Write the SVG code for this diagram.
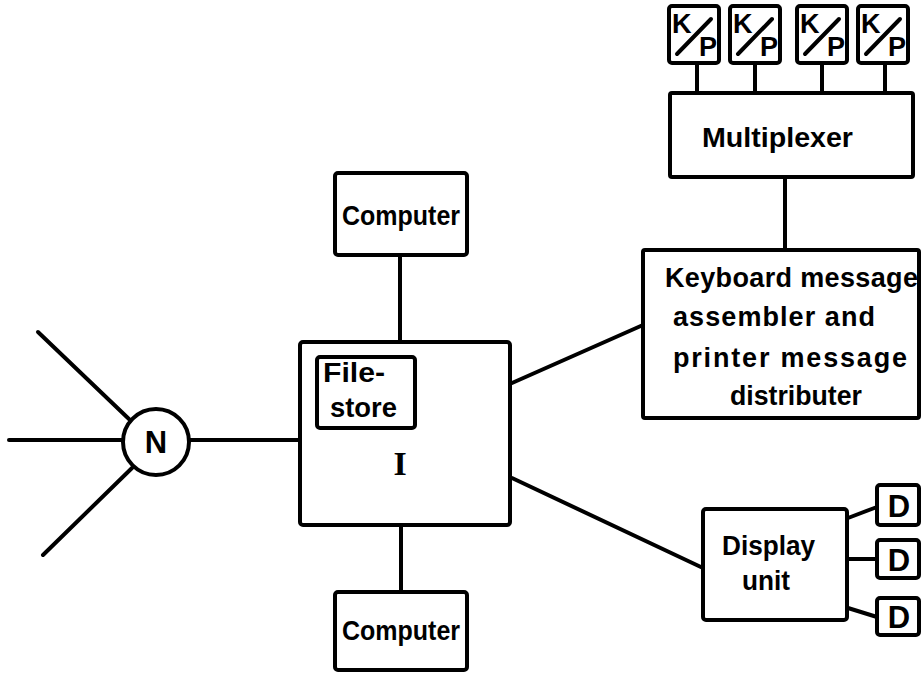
<svg xmlns="http://www.w3.org/2000/svg" width="922" height="673" viewBox="0 0 922 673">
<style>
.b{fill:#fff;stroke:#000;stroke-width:4}
.l{stroke:#000;stroke-width:4;fill:none;stroke-linecap:round}
.t{font-family:"Liberation Sans",Arial,sans-serif;font-weight:bold;font-size:27px;fill:#000}
.c{text-anchor:middle}
.big{font-size:31px}
</style>
<rect width="922" height="673" fill="#fff"/>
<g id="connectors">
<line class="l" x1="38" y1="332" x2="130" y2="420"/>
<line class="l" x1="9" y1="440" x2="123" y2="440"/>
<line class="l" x1="43" y1="555" x2="132" y2="468"/>
<line class="l" x1="189" y1="440" x2="300" y2="440"/>
<line class="l" x1="400" y1="256" x2="400" y2="342"/>
<line class="l" x1="401" y1="525" x2="401" y2="592"/>
<line class="l" x1="512" y1="383" x2="643" y2="325"/>
<line class="l" x1="512" y1="478" x2="703" y2="568"/>
<line class="l" x1="785" y1="177" x2="785" y2="250"/>
<line class="l" x1="697" y1="63" x2="697" y2="93"/>
<line class="l" x1="755" y1="63" x2="755" y2="93"/>
<line class="l" x1="822" y1="63" x2="822" y2="93"/>
<line class="l" x1="885" y1="63" x2="885" y2="93"/>
<line class="l" x1="848" y1="518" x2="877" y2="507"/>
<line class="l" x1="848" y1="559" x2="877" y2="559"/>
<line class="l" x1="848" y1="608" x2="877" y2="617"/>
</g>
<g id="node-N">
<circle class="b" cx="156" cy="442" r="33"/>
<text class="t c big" x="156" y="453">N</text>
</g>
<g id="node-I">
<rect class="b" x="300" y="342" width="210" height="183" rx="3"/>
<text x="400" y="475" text-anchor="middle" font-family="Liberation Serif,serif" font-weight="bold" font-size="34">I</text>
</g>
<g id="node-filestore">
<rect class="b" x="317" y="357" width="98" height="71" rx="3"/>
<text class="t" x="323" y="382" textLength="62" lengthAdjust="spacingAndGlyphs">File-</text>
<text class="t" x="330" y="417" textLength="67" lengthAdjust="spacingAndGlyphs">store</text>
</g>
<g id="node-computer-top">
<rect class="b" x="335" y="173" width="132" height="82" rx="3"/>
<text class="t" x="342" y="225" textLength="118" lengthAdjust="spacingAndGlyphs">Computer</text>
</g>
<g id="node-computer-bottom">
<rect class="b" x="335" y="592" width="132" height="78" rx="3"/>
<text class="t" x="342" y="640" textLength="118" lengthAdjust="spacingAndGlyphs">Computer</text>
</g>
<g id="node-keyboard">
<rect class="b" x="643" y="250" width="276" height="168" rx="2"/>
<text class="t" x="665" y="287" textLength="253" lengthAdjust="spacing">Keyboard message</text>
<text class="t" x="673" y="326" textLength="202" lengthAdjust="spacing">assembler and</text>
<text class="t" x="673" y="367" textLength="234" lengthAdjust="spacing">printer message</text>
<text class="t" x="730" y="405" textLength="132" lengthAdjust="spacingAndGlyphs">distributer</text>
</g>
<g id="node-multiplexer">
<rect class="b" x="670" y="93" width="243" height="84" rx="2"/>
<text class="t" x="702" y="147" textLength="151" lengthAdjust="spacingAndGlyphs">Multiplexer</text>
</g>
<g id="node-kp1">
<rect class="b" x="669" y="6" width="50" height="57" rx="3"/>
<text class="t" x="672" y="33">K</text><line class="l" x1="677" y1="54" x2="711" y2="19"/><text class="t" x="699" y="56">P</text>
</g>
<g id="node-kp2">
<rect class="b" x="730" y="6" width="50" height="57" rx="3"/>
<text class="t" x="733" y="33">K</text><line class="l" x1="738" y1="54" x2="772" y2="19"/><text class="t" x="760" y="56">P</text>
</g>
<g id="node-kp3">
<rect class="b" x="797" y="6" width="50" height="57" rx="3"/>
<text class="t" x="800" y="33">K</text><line class="l" x1="805" y1="54" x2="839" y2="19"/><text class="t" x="827" y="56">P</text>
</g>
<g id="node-kp4">
<rect class="b" x="858" y="6" width="50" height="57" rx="3"/>
<text class="t" x="861" y="33">K</text><line class="l" x1="866" y1="54" x2="900" y2="19"/><text class="t" x="888" y="56">P</text>
</g>
<g id="node-display">
<rect class="b" x="703" y="509" width="144" height="111" rx="3"/>
<text class="t" x="722" y="555" textLength="93" lengthAdjust="spacingAndGlyphs">Display</text>
<text class="t" x="742" y="590" textLength="48" lengthAdjust="spacingAndGlyphs">unit</text>
</g>
<g id="node-d1">
<rect class="b" x="877" y="485" width="42" height="40" rx="3"/>
<text class="t c big" x="899" y="517">D</text>
</g>
<g id="node-d2">
<rect class="b" x="877" y="540" width="42" height="38" rx="3"/>
<text class="t c big" x="899" y="571">D</text>
</g>
<g id="node-d3">
<rect class="b" x="877" y="598" width="42" height="37" rx="3"/>
<text class="t c big" x="899" y="628">D</text>
</g>
</svg>
